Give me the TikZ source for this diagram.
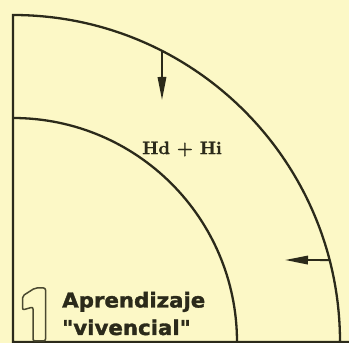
\documentclass[tikz,border=0pt]{standalone}
\usepackage{fontspec}
\newfontfamily\labelfont[BoldFeatures={FakeBold=1.6}]{DejaVu Sans}
\newfontfamily\sumfont[Extension=.otf, FakeBold=1.4]{lmroman10-bold}
\usetikzlibrary{arrows.meta,positioning,calc}
\definecolor{paper}{HTML}{FCF8C6}
\definecolor{ink}{HTML}{2B2A1A}
\definecolor{inklight}{HTML}{4A4930}

\begin{document}
\begin{tikzpicture}[
    x=1pt, y=1pt,
    rim/.style={draw=ink, line width=2.3pt},
    flow/.style={draw=ink, line width=1.8pt, -{Triangle[length=23pt, width=8.5pt]}},
    title/.style={font=\labelfont\bfseries\fontsize{20.5}{27.5}\selectfont,
        text=ink, align=left, inner sep=0pt, xscale=1.04},
    sum/.style={font=\sumfont\fontsize{18}{20}\selectfont, text=ink, inner sep=0pt},
]

% Paper
\fill[paper] (0,0) rectangle (349,343);
\useasboundingbox (0,0) rectangle (349,343);

% Quadrants
\coordinate (o) at (13,1);
\draw[rim] (349,1) -- (o) -- (13,328) arc[start angle=90, end angle=0, radius=327];
\draw[rim] (13,225) arc[start angle=90, end angle=0, radius=224];

% Arrows from the outer rim
\coordinate (topfoot) at ($(o)+(62.9:327)$);
\coordinate (toptip) at (162,243);
\coordinate (sidefoot) at ($(o)+(14.5:327)$);
\coordinate (sidetip) at (285,83);
\draw[flow] (topfoot) -- (toptip);
\draw[flow] (sidefoot) -- (sidetip);

% Labels
\node[sum] (hdhi) at (182,194) {Hd + Hi};
\node[title, anchor=base west] (stage) at (62,8) {Aprendizaje\\"vivencial"};

% Numeral
\draw[inklight, line width=1.5pt, rounded corners=2pt]
    (33,2) -- (33,36) -- (22.5,33) -- (22.5,47) -- (35,55) -- (45.5,55) -- (45.5,2) -- cycle;

\end{tikzpicture}
\end{document}
